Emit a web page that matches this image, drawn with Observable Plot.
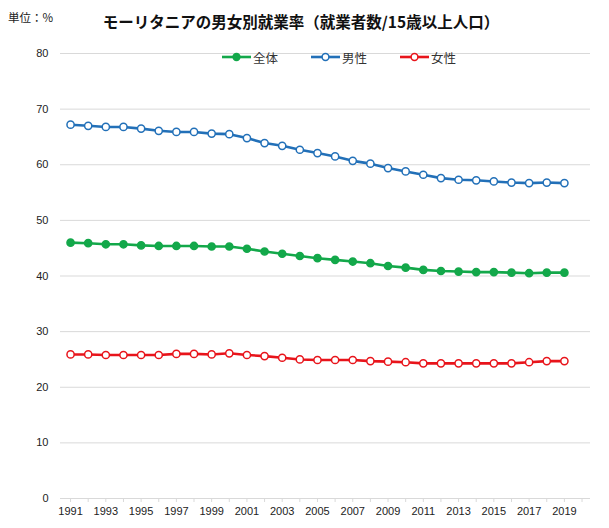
<!DOCTYPE html>
<html><head><meta charset="utf-8">
<script src="https://cdn.jsdelivr.net/npm/d3@7"></script>
<script src="https://cdn.jsdelivr.net/npm/@observablehq/plot@0.6"></script>
<style>
html,body{margin:0;padding:0;background:#fff;}
#wrap{position:relative;width:609px;height:528px;font-family:"Liberation Sans","Noto Sans CJK JP",sans-serif;}
#head{position:relative;height:40px;}
#unit{position:absolute;left:8px;top:9px;font-size:11.5px;color:#222;font-family:"Noto Sans CJK JP",sans-serif;}
#title{position:absolute;left:0;width:602px;top:10px;text-align:center;font-size:15.5px;font-weight:bold;color:#111;font-family:"Noto Sans CJK JP",sans-serif;letter-spacing:0px;}
#legend{position:absolute;top:48px;left:0;width:609px;height:18px;font-family:"Noto Sans CJK JP",sans-serif;font-size:12.5px;color:#333;}
.li{position:absolute;display:flex;align-items:center;height:18px;}
.li svg{margin-right:2px;}
</style></head>
<body>
<div id="wrap">
  <div id="head">
    <div id="unit">単位：%</div>
    <div id="title">モーリタニアの男女別就業率（就業者数/15歳以上人口）</div>
  </div>
  <div id="chart"></div>
  <div id="legend"></div>
</div>
<script>
const years = d3.range(1991, 2020);
const total = [46.0,45.9,45.7,45.7,45.5,45.4,45.4,45.4,45.3,45.3,44.9,44.4,44.0,43.6,43.2,42.9,42.6,42.3,41.8,41.5,41.1,40.9,40.8,40.7,40.7,40.6,40.5,40.6,40.6];
const male = [67.2,67.0,66.8,66.8,66.5,66.1,65.9,65.9,65.6,65.5,64.8,63.9,63.4,62.7,62.1,61.5,60.7,60.2,59.4,58.8,58.2,57.6,57.3,57.2,57.0,56.8,56.7,56.8,56.7];
const female = [25.9,25.9,25.8,25.8,25.8,25.8,26.0,26.0,25.9,26.1,25.8,25.6,25.3,25.0,24.9,24.9,24.9,24.7,24.6,24.5,24.3,24.3,24.3,24.3,24.3,24.3,24.5,24.7,24.7];
const seriesNames = ["全体","男性","女性"];
const seriesColors = ["#13a84a","#2270b8","#e8141b"];
const yTicks = [0,10,20,30,40,50,60,70,80];
const xTicks = d3.range(1991, 2021);

const rows = [];
[total, male, female].forEach((arr, i) => {
  arr.forEach((v, j) => rows.push({series: seriesNames[i], year: years[j], value: v}));
});
const colorOf = Object.fromEntries(seriesNames.map((s, i) => [s, seriesColors[i]]));

const plot = Plot.plot({
  width: 609,
  height: 488,
  marginTop: 13,
  marginBottom: 30,
  marginLeft: 60,
  marginRight: 19,
  style: {fontFamily: "Liberation Sans, sans-serif", fontSize: "11px", color: "#222", background: "#fff"},
  x: {type: "linear", domain: [1990.43, 2020.48]},
  y: {domain: [0, 80]},
  color: {domain: seriesNames, range: seriesColors},
  marks: [
    Plot.ruleY(yTicks, {y: d => d, stroke: "#d9d9d9", strokeWidth: 1}),
    Plot.axisY({ticks: yTicks, tickSize: 0, tickPadding: 12, label: null, fontSize: 11}),
    Plot.axisX({ticks: xTicks, tickSize: 4, tickPadding: 5, stroke: "#d9d9d9", label: null,
      tickFormat: d => (d % 2 === 1 ? String(d) : ""), fontSize: 11, fill: "#222"}),
    Plot.lineY(rows, {x: "year", y: "value", z: "series", stroke: d => colorOf[d.series], strokeWidth: 2.6}),
    Plot.dot(rows, {x: "year", y: "value", r: 3.6, stroke: d => colorOf[d.series],
      fill: d => d.series === "全体" ? colorOf[d.series] : "#fff", strokeWidth: 1.5})
  ]
});
document.getElementById("chart").appendChild(plot);

// legend
const legendLeft = [222, 311, 400];
const leg = document.getElementById("legend");
seriesNames.forEach((s, i) => {
  const d = document.createElement("div");
  d.className = "li";
  d.style.left = legendLeft[i] + "px";
  const c = seriesColors[i];
  const fill = s === "全体" ? c : "#fff";
  d.innerHTML = `<svg width="29" height="10"><line x1="0" x2="29" y1="5" y2="5" stroke="${c}" stroke-width="2.6"/><circle cx="14.5" cy="5" r="3.4" fill="${fill}" stroke="${c}" stroke-width="1.5"/></svg><span>${s}</span>`;
  leg.appendChild(d);
});
</script>
</body></html>
